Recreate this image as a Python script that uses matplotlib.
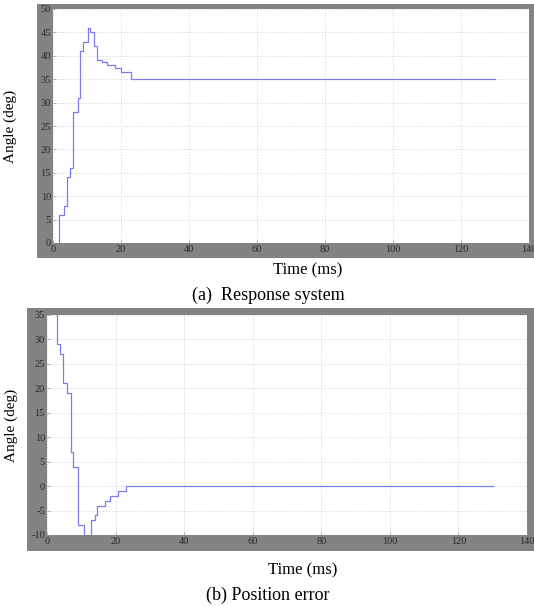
import matplotlib
matplotlib.use("Agg")
import matplotlib.pyplot as plt
from matplotlib.patches import Rectangle

plt.rcParams["axes.unicode_minus"] = False

# Response system (step-wise), time in ms, angle in deg
resp_t = [0, 1.8, 3.3, 4.0, 5.0, 5.8, 7.3, 8.0, 8.8, 10.3, 10.8, 12.0, 13.0, 14.5, 16.0, 18.3, 20.0, 22.8, 130]
resp_y = [0, 6, 8, 14, 16, 28, 31, 41, 43, 46, 45, 42, 39, 38.7, 38, 37.3, 36.5, 35, 35]

# Position error (step-wise)
err_t = [0, 2.9, 3.9, 4.8, 5.8, 7.0, 7.7, 8.9, 10.8, 12.9, 13.9, 14.7, 16.8, 18.5, 20.7, 22.9, 130]
err_y = [36, 29, 27, 21, 19, 7, 4, -8, -11, -7, -6, -4, -3, -2, -1, 0, 0]

xticks = [0, 20, 40, 60, 80, 100, 120, 140]
yticks_a = [0, 5, 10, 15, 20, 25, 30, 35, 40, 45, 50]
yticks_b = [-10, -5, 0, 5, 10, 15, 20, 25, 30, 35]

W, H = 534, 606
fig = plt.figure(figsize=(W / 100, H / 100), dpi=100)
fig.patch.set_facecolor("white")

serif = ["Liberation Serif", "DejaVu Serif"]
gray = "#838383"
line_c = "#7b7bf0"


def px_rect(x0, y0, x1, y1):
    return [x0 / W, 1 - y1 / H, (x1 - x0) / W, (y1 - y0) / H]


# gray frames
for (x0, y0, x1, y1) in [(37, 4, 534, 258), (27, 308, 534, 551)]:
    l, b, w, h = px_rect(x0, y0, x1, y1)
    fig.patches.append(Rectangle((l, b), w, h, transform=fig.transFigure,
                                 facecolor=gray, edgecolor="none", zorder=-5))

ax1 = fig.add_axes(px_rect(53, 9, 529, 243))
ax2 = fig.add_axes(px_rect(47, 315, 527, 535))
ax1.set_zorder(2)
ax2.set_zorder(2)

for ax, t, y, yt, ylim in [(ax1, resp_t, resp_y, yticks_a, (0, 50)),
                           (ax2, err_t, err_y, yticks_b, (-10, 35))]:
    ax.set_facecolor("white")
    ax.step(t, y, where="post", color=line_c, lw=0.9)
    ax.set_xlim(0, 140)
    ax.set_ylim(*ylim)
    ax.set_xticks(xticks)
    ax.set_yticks(yt)
    ax.grid(True, color="#d2d2d2", linestyle=(0, (1.5, 2)), lw=0.6)
    for s in ax.spines.values():
        s.set_visible(False)
    ax.tick_params(direction="in", length=2, width=0.5, color="#999999",
                   labelsize=7.5, labelcolor="#2a2a2a", pad=1.5)
    for lab in ax.get_xticklabels() + ax.get_yticklabels():
        lab.set_family(serif)
    ax.set_ylabel("Angle (deg)", family=serif, fontsize=11, labelpad=7)

ax1.yaxis.set_label_coords(-0.075, 0.5)
ax2.yaxis.set_label_coords(-0.06, 0.5)

fig.text(308 / W, 1 - 270 / H, "Time (ms)", family=serif, fontsize=12,
         ha="center", va="center")
fig.text(268 / W, 1 - 295 / H, "(a)  Response system", family=serif, fontsize=13,
         ha="center", va="center")
fig.text(303 / W, 1 - 570 / H, "Time (ms)", family=serif, fontsize=12,
         ha="center", va="center")
fig.text(268 / W, 1 - 595 / H, "(b) Position error", family=serif, fontsize=13,
         ha="center", va="center")

fig.savefig("out.png", dpi=100, facecolor="white")
